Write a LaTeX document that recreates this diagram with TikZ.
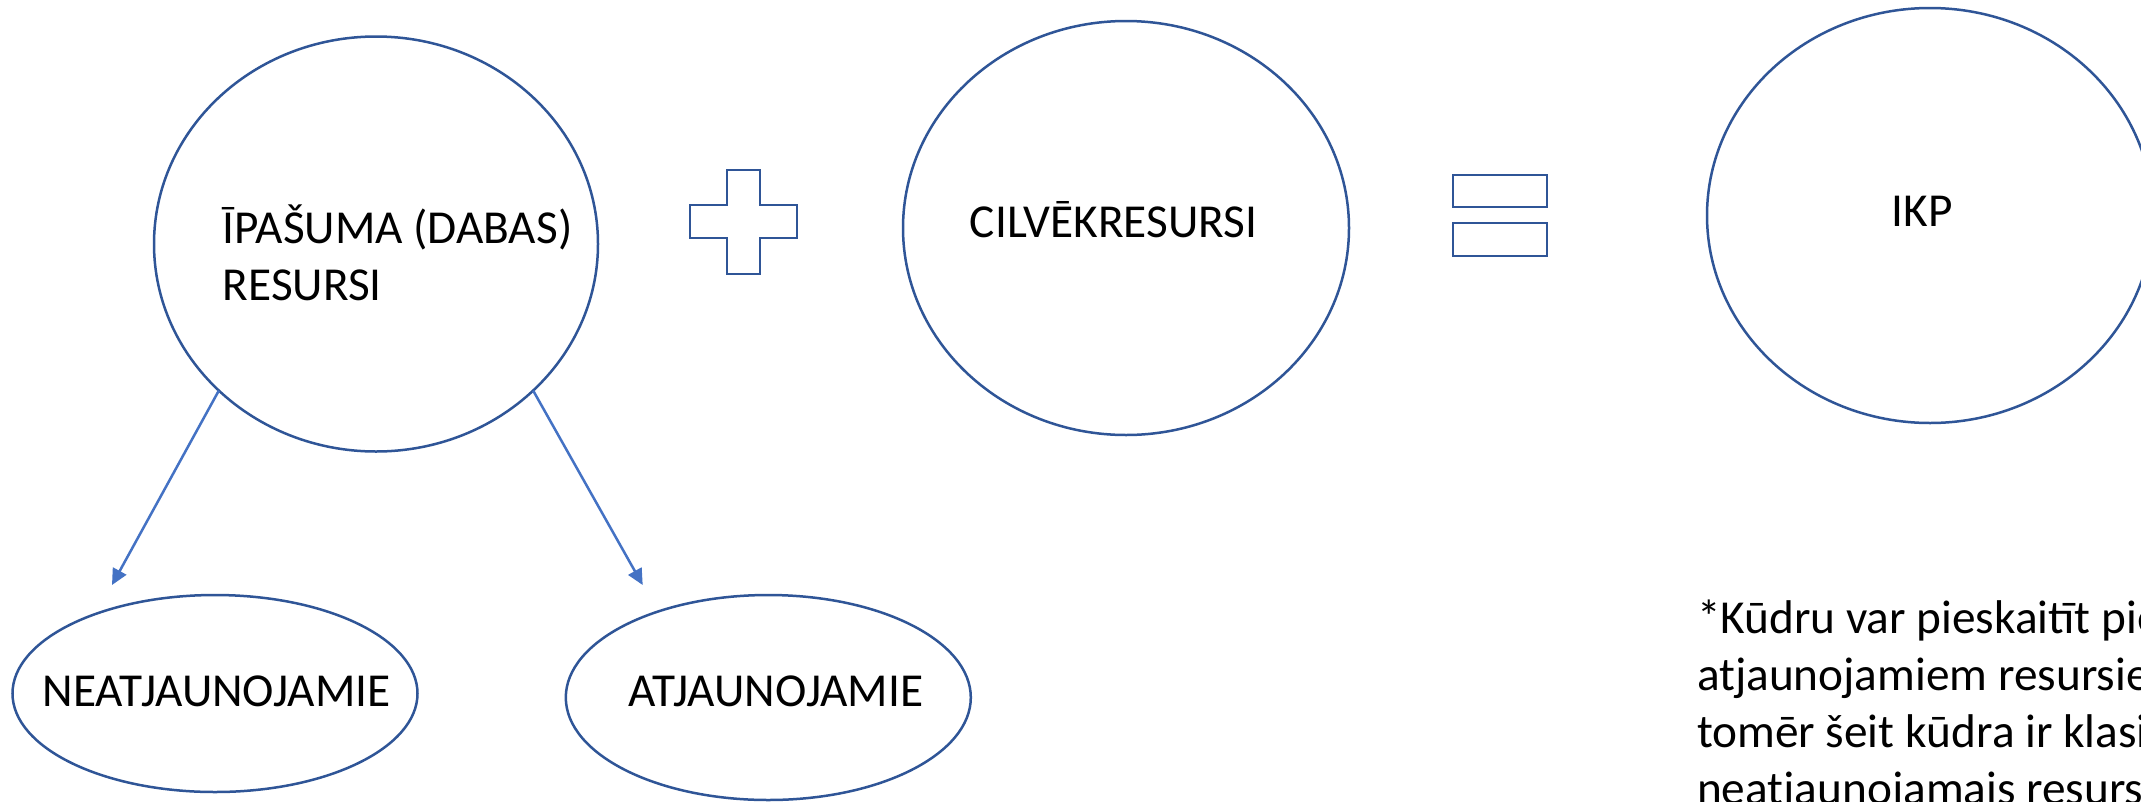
\documentclass[tikz,border=0pt]{standalone}
\usepackage{fontspec}
\setmainfont{Carlito}
\usetikzlibrary{shapes.geometric,arrows.meta}
\definecolor{edgeblue}{RGB}{47,85,151}
\definecolor{arrowblue}{RGB}{68,114,196}
\tikzset{
  oval/.style={ellipse, draw=edgeblue, line width=2.5pt, inner sep=0pt, outer sep=0pt},
  lbl/.style={inner sep=0pt, outer sep=0pt, font=\fontsize{47.3}{57}\selectfont, text=black},
  arr/.style={draw=arrowblue, line width=2.5pt, -{Triangle[length=16pt,width=15pt]}},
  symb/.style={draw=edgeblue, line width=2.5pt, line join=miter}
}
\begin{document}
\begin{tikzpicture}[x=1pt,y=-1pt]
\path[use as bounding box, clip] (0,0) rectangle (2141,801);
\fill[white] (0,0) rectangle (2141,801);
% ellipses
\node[oval, minimum width=444pt, minimum height=415pt] (A) at (376,244) {};
\node[oval, minimum width=446pt, minimum height=414pt] (C) at (1126,228) {};
\node[oval, minimum width=446pt, minimum height=415pt] (I) at (1930,215.5) {};
\node[oval, minimum width=405pt, minimum height=197pt] (N) at (215,693.5) {};
\node[oval, minimum width=405pt, minimum height=205pt] (R) at (768.3,697.5) {};
% labels (multi-line nodes: base anchor is the last line)
\node[lbl, anchor=base west, align=left] (tA) at (222.7,300) {ĪPAŠUMA (DABAS)\\RESURSI};
\node[lbl, anchor=base] (tC) at (1113.5,237) {CILVĒKRESURSI};
\node[lbl, anchor=base] (tI) at (1922,226) {IKP};
\node[lbl, anchor=base] (tN) at (216.7,706) {NEATJAUNOJAMIE};
\node[lbl, anchor=base] (tR) at (775.8,706) {ATJAUNOJAMIE};
% plus sign
\draw[symb] (727,170) -- (760,170) -- (760,205) -- (797,205) -- (797,238) -- (760,238)
  -- (760,274) -- (727,274) -- (727,238) -- (690,238) -- (690,205) -- (727,205) -- cycle;
% equals sign
\draw[symb] (1453,175) rectangle (1547,207);
\draw[symb] (1453,223) rectangle (1547,256);
% arrows
\coordinate (tipN) at (112,585);
\coordinate (tipR) at (642.7,585);
\draw[arr] (A.223.2) -- (tipN);
\draw[arr] (A.317.1) -- (tipR);
% footnote (cut by the right and bottom edges, as in the reference)
\node[lbl, anchor=base west, align=left] (note) at (1697,804)
  {*Kūdru var pieskaitīt pie\\atjaunojamiem resursiem,\\tomēr šeit kūdra ir klasificēta\\neatjaunojamais resurss};
\end{tikzpicture}
\end{document}
